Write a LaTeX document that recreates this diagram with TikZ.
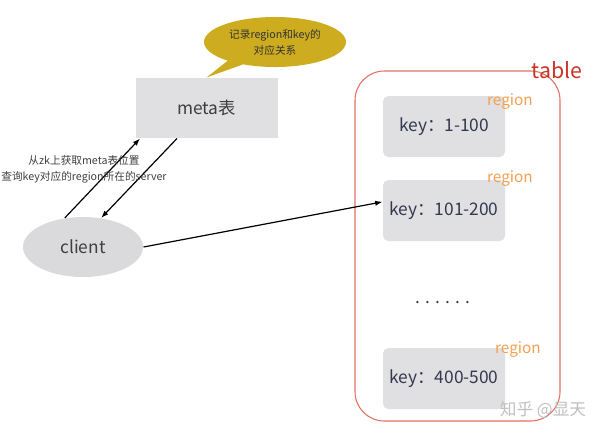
\documentclass[tikz,border=0pt]{standalone}
\usepackage{fontspec}
\setmainfont{Noto Sans CJK SC}
\usetikzlibrary{shapes.geometric,shapes.callouts,arrows.meta}

\definecolor{bubbleyellow}{RGB}{205,172,32}
\definecolor{boxgray}{RGB}{224,224,226}
\definecolor{clientgray}{RGB}{218,218,220}
\definecolor{tablered}{RGB}{222,112,100}
\definecolor{tabletext}{RGB}{200,52,40}
\definecolor{regionorange}{RGB}{242,160,80}
\definecolor{keytext}{RGB}{52,56,80}
\definecolor{darktext}{RGB}{62,62,62}

\tikzset{every picture/.style={line width=0.75pt}}
\tikzset{
  metabox/.style={fill=boxgray, minimum width=106.5pt, minimum height=45pt, inner sep=0pt, text=darktext, font=\fontsize{13}{15}\selectfont},
  keybox/.style={fill=boxgray, rounded corners=4pt, minimum width=91.5pt, minimum height=45.75pt, inner sep=0pt, text=keytext, font=\fontsize{13}{15}\selectfont},
  regionlabel/.style={inner sep=0.75pt, text=regionorange, font=\fontsize{11.5}{13}\selectfont},
  smalltext/.style={inner sep=0.75pt, text=darktext, font=\fontsize{8}{12}\selectfont, align=center},
  flow/.style={-{Latex[length=5.5pt,width=4pt]}, line width=0.9pt},
}

\begin{document}
\begin{tikzpicture}[x=0.75pt,y=0.75pt,yscale=-1,xscale=1]
\useasboundingbox (0,0) rectangle (610,437);

%Shape: Rectangle [meta]
\draw (206.5,108) node [metabox] (meta) {meta表};
%Shape: Ellipse Callout [note]
\draw (275,42) node [ellipse callout, fill=bubbleyellow, minimum width=106.5pt, minimum height=37.5pt, inner sep=0pt, callout absolute pointer={(meta.north)}, smalltext, text=black!80] (note) {记录region和key的\\对应关系};
%Shape: Ellipse [client]
\draw (83,247) node [ellipse, fill=clientgray, minimum width=90pt, minimum height=45pt, inner sep=0pt, text=darktext, font=\fontsize{13}{15}\selectfont] (client) {client};

%Shape: Rounded Rectangle [table]
\draw (457.5,246) node [draw=tablered, rounded corners=22pt, minimum width=153.75pt, minimum height=262.5pt, line width=0.8pt] (tbl) {};
% Text Node
\draw (557,70) node [inner sep=0.75pt, text=tabletext, font=\fontsize{16}{18}\selectfont] (tbllabel) {table};

%Shape: Rectangle [regions]
\draw (444,126.5) node [keybox] (r1) {key：1-100};
\draw (444,210.5) node [keybox] (r2) {key：101-200};
\draw (444,378.5) node [keybox] (r3) {key：400-500};
% Text Node
\draw (510,101) node [regionlabel] (lr1) {region};
\draw (510,178) node [regionlabel] (lr2) {region};
\draw (518,349) node [regionlabel] (lr3) {region};
% Text Node
\draw (443,303) node [inner sep=0.75pt, text=keytext, font=\fontsize{13}{15}\selectfont] (dots) {. . . . . .};

%Straight Lines
\draw [flow] (client.122) -- ([xshift=3.75pt]meta.south west);
\draw [flow] ([xshift=31.5pt]meta.south west) -- (client.58);
\draw [flow] (client.east) -- (r2.172);

% Text Node
\draw (84,169) node [smalltext] (ask) {从zk上获取meta表位置\\查询key对应的region所在的server};
% Text Node
\draw (543,410) node [inner sep=0.75pt, text=black!25, font=\fontsize{12.5}{14}\selectfont] (mark) {知乎 @显天};

\end{tikzpicture}
\end{document}
